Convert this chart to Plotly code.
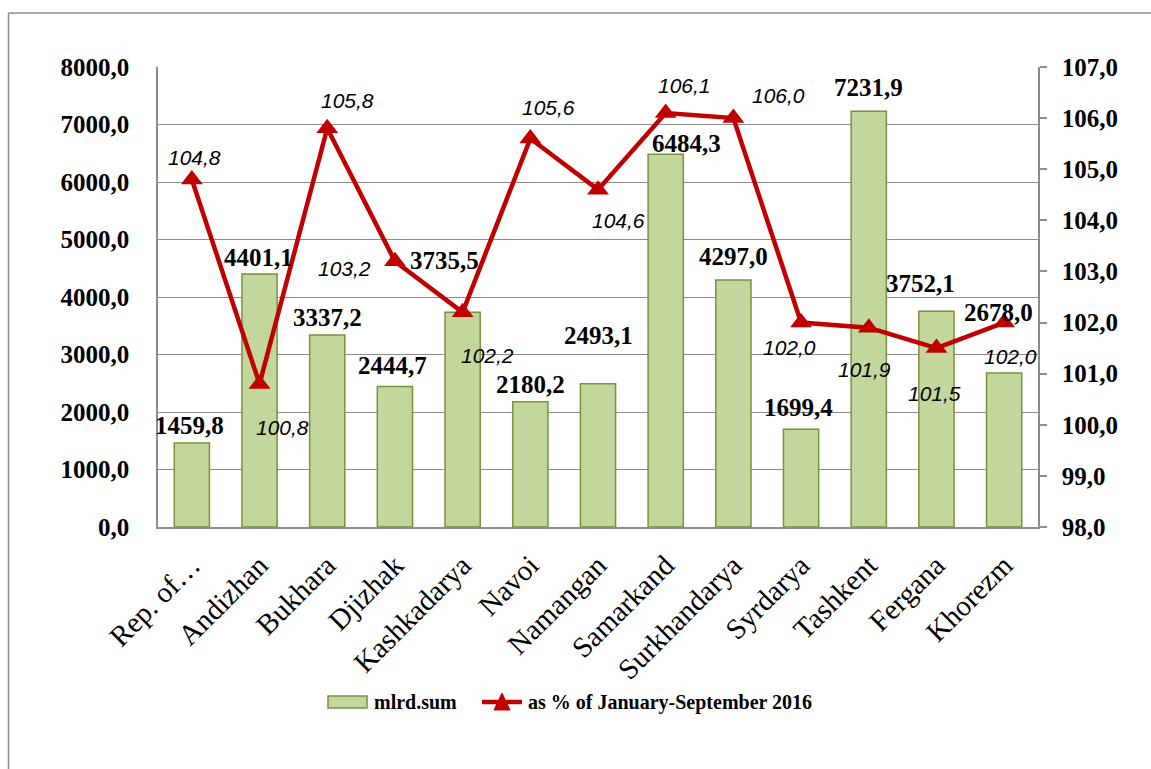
import plotly.graph_objects as go

categories = ["Rep. of…", "Andizhan", "Bukhara", "Djizhak", "Kashkadarya", "Navoi",
              "Namangan", "Samarkand", "Surkhandarya", "Syrdarya", "Tashkent",
              "Fergana", "Khorezm"]
mlrd_sum = [1459.8, 4401.1, 3337.2, 2444.7, 3735.5, 2180.2, 2493.1, 6484.3,
            4297.0, 1699.4, 7231.9, 3752.1, 2678.0]
pct_2016 = [104.8, 100.8, 105.8, 103.2, 102.2, 105.6, 104.6, 106.1, 106.0,
            102.0, 101.9, 101.5, 102.0]

bar_name = "mlrd.sum"
line_name = "as % of January-September 2016"

# label placement offsets in pixels (dx, dy; dy positive = up)
bar_label_offsets = [(-2, 18), (-1, 16), (0, 18), (-2, 21), (-18, 52), (0, 17), (0, 48),
                     (21, 11), (0, 23), (-3, 22), (0, 24), (-16, 28), (-6, 61)]
line_label_offsets = [(3, 22), (23, -44), (20, 28), (-50, -7), (25, -43), (18, 31),
                      (20, -31), (19, 28), (45, 23), (-12, -25), (-4, -42), (-2, -45), (6, -34)]


def fmt(v):
    return f"{v:.1f}".replace(".", ",")


GRID = "#8c8c8c"
SERIF = "Liberation Serif"
RED = "#C00000"
BAR_FILL = "#C3D69B"
BAR_EDGE = "#77933C"

fig = go.Figure()
fig.add_trace(go.Bar(
    x=categories, y=mlrd_sum, name=bar_name, width=0.52,
    marker=dict(color=BAR_FILL, line=dict(color=BAR_EDGE, width=1.5)),
    yaxis="y", showlegend=False,
))
fig.add_trace(go.Scatter(
    x=categories, y=pct_2016, name=line_name, mode="lines+markers",
    line=dict(color=RED, width=4.5),
    marker=dict(symbol="triangle-up", size=19, color=RED),
    yaxis="y2", showlegend=False,
))

annotations = []
for c, v, (dx, dy) in zip(categories, mlrd_sum, bar_label_offsets):
    annotations.append(dict(
        x=c, y=v, xref="x", yref="y", text=fmt(v), showarrow=False,
        xanchor="center", yanchor="middle", xshift=dx, yshift=dy,
        font=dict(family=SERIF, size=25, color="black", weight="bold"),
    ))
for c, v, (dx, dy) in zip(categories, pct_2016, line_label_offsets):
    annotations.append(dict(
        x=c, y=v, xref="x", yref="y2", text=fmt(v), showarrow=False,
        xanchor="center", yanchor="middle", xshift=dx, yshift=dy,
        font=dict(family="Liberation Sans", size=21, color="black", style="italic"),
    ))

# page pixel geometry (body margin removed below, so figure starts at 0,0)
FW, FH = 1151, 769
L, R, T, B = 158, 1038, 67, 527
pw, ph = R - L, B - T


def px_x(x):
    return (x - L) / pw


def px_y(y):
    return (B - y) / ph


# custom legend (pixel placement)
leg_y = 702
annotations.append(dict(x=px_x(372), y=px_y(leg_y), xref="paper", yref="paper",
                        text=bar_name, showarrow=False, xanchor="left", yanchor="middle",
                        font=dict(family=SERIF, size=20, color="black", weight="bold")))
annotations.append(dict(x=px_x(526), y=px_y(leg_y), xref="paper", yref="paper",
                        text=line_name, showarrow=False, xanchor="left", yanchor="middle",
                        font=dict(family=SERIF, size=20, color="black", weight="bold")))

tri = (f"M {px_x(494)},{px_y(710)} L {px_x(502)},{px_y(693)} "
       f"L {px_x(510)},{px_y(710)} Z")
frame = dict(color="#8c8c8c", width=1.5)
shapes = [
    dict(type="line", xref="paper", yref="paper",
         x0=px_x(8.5), x1=px_x(1160), y0=px_y(13), y1=px_y(13), line=frame, layer="below"),
    dict(type="line", xref="paper", yref="paper",
         x0=px_x(8.5), x1=px_x(8.5), y0=px_y(13), y1=px_y(780), line=frame, layer="below"),
    dict(type="rect", xref="paper", yref="paper",
         x0=px_x(328), x1=px_x(367), y0=px_y(708), y1=px_y(696),
         line=dict(color=BAR_EDGE, width=1.5), fillcolor=BAR_FILL),
    dict(type="line", xref="paper", yref="paper",
         x0=px_x(482), x1=px_x(522), y0=px_y(leg_y), y1=px_y(leg_y),
         line=dict(color=RED, width=4.5)),
    dict(type="path", xref="paper", yref="paper", path=tri,
         line=dict(color=RED, width=1), fillcolor=RED),
]

fig.update_layout(
    width=FW, height=FH,
    margin=dict(l=L, r=FW - R, t=T, b=FH - B),
    paper_bgcolor="white", plot_bgcolor="white",
    separators=", ",
    showlegend=False,
    hovermode=False,
    xaxis=dict(
        range=[-0.5, len(categories) - 0.5],
        tickangle=-45, tickfont=dict(family=SERIF, size=29, color="black"),
        showline=True, linecolor=GRID, linewidth=1.5, ticks="", showgrid=False,
        ticklabelstandoff=8,
    ),
    yaxis=dict(
        range=[0, 8000], dtick=1000, tickformat=".1f",
        tickfont=dict(family=SERIF, size=25, color="black", weight="bold"),
        showgrid=True, gridcolor=GRID, gridwidth=1.2,
        showline=True, linecolor=GRID, linewidth=1.5, ticks="",
        ticklabelstandoff=22, zeroline=False,
    ),
    yaxis2=dict(
        range=[98, 107], dtick=1, tickformat=".1f", overlaying="y", side="right",
        tickfont=dict(family=SERIF, size=25, color="black", weight="bold"),
        showgrid=False, showline=True, linecolor=GRID, linewidth=1.5,
        ticks="outside", ticklen=7, tickcolor=GRID, tickwidth=1.5,
        ticklabelstandoff=10, zeroline=False,
    ),
    annotations=annotations,
    shapes=shapes,
)

fig.write_html(
    "out.html",
    config={"displayModeBar": False},
    post_script="document.body.style.margin='0';document.body.style.overflow='hidden';",
)
